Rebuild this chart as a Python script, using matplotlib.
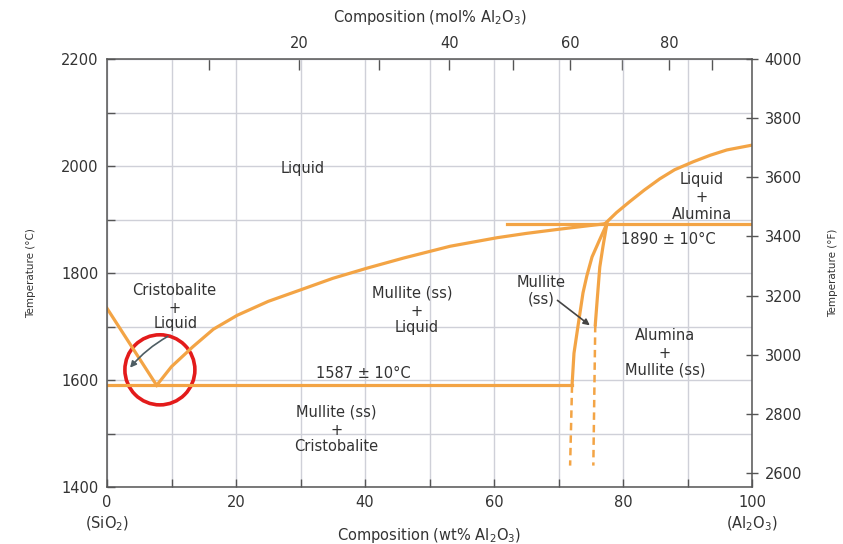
import numpy as np
import matplotlib
matplotlib.use("Agg")
import matplotlib.pyplot as plt
from matplotlib.patches import Ellipse

plt.rcParams['font.family'] = ['DejaVu Sans']
plt.rcParams['mathtext.default'] = 'regular'

# phase boundaries (wt% Al2O3, deg C)
sio2_liq_wt = [0, 7.7]
sio2_liq_T = [1734, 1590]
mull_liq_wt = [7.7, 10, 13.3, 16.5, 20.2, 25, 29.9, 35, 40.3, 46, 53.2, 60.5, 65, 70.2, 77.2]
mull_liq_T = [1590, 1625, 1662, 1695, 1721, 1747, 1768, 1790, 1809, 1828, 1850, 1866, 1874, 1882, 1892]
alum_liq_wt = [77.2, 79, 81, 83.3, 85.7, 88, 90.9, 93.5, 96.1, 100]
alum_liq_T = [1892, 1913, 1933, 1955, 1976, 1993, 2008, 2020, 2030, 2039]
eut_wt = [0, 72.1]
eut_T = [1590, 1590]
peri_wt = [62, 100]
peri_T = [1892, 1892]
mull_left_wt = [77.5, 76.3, 75.2, 74.4, 73.8, 73.0, 72.4, 72.1]
mull_left_T = [1892, 1860, 1830, 1795, 1763, 1699, 1650, 1590]
mull_left_dash_wt = [72.1, 71.8]
mull_left_dash_T = [1590, 1440]
mull_right_wt = [77.5, 76.9, 76.4, 76.0, 75.7]
mull_right_T = [1892, 1850, 1811, 1750, 1703]
mull_right_dash_wt = [75.7, 75.4]
mull_right_dash_T = [1703, 1440]

# region labels: (text, wt%, T)
labels = [
    ("Liquid", 30.4, 1996),
    ("Cristobalite", 10.4, 1768), ("+", 10.4, 1734), ("Liquid", 10.6, 1705),
    ("Mullite (ss)", 47.4, 1763), ("+", 48.0, 1728), ("Liquid", 48.0, 1699),
    ("1587 ± 10°C", 39.7, 1613),
    ("Mullite (ss)", 35.6, 1540), ("+", 35.6, 1506), ("Cristobalite", 35.6, 1475),
    ("Mullite", 67.3, 1783), ("(ss)", 67.3, 1751),
    ("Liquid", 92.2, 1974), ("+", 92.2, 1942), ("Alumina", 92.2, 1910),
    ("1890 ± 10°C", 87.1, 1862),
    ("Alumina", 86.5, 1684), ("+", 86.5, 1650), ("Mullite (ss)", 86.6, 1619),
]

orange = '#F3A445'
txt = '#333333'

def wt2mol(w):
    w = np.clip(np.asarray(w, dtype=float), 1e-9, 100 - 1e-9)
    a = w / 101.96
    b = (100 - w) / 60.08
    return 100 * a / (a + b)

def mol2wt(m):
    m = np.clip(np.asarray(m, dtype=float), 1e-9, 100 - 1e-9)
    return 100 * m * 101.96 / (m * 101.96 + (100 - m) * 60.08)

fig = plt.figure(figsize=(8.43, 5.44), dpi=100)
ax = fig.add_axes([107/843, 1 - 487/544, 645/843, 428/544])

ax.set_xlim(0, 100)
ax.set_ylim(1400, 2200)
ax.set_xticks(range(0, 101, 20))
ax.set_xticks(range(10, 100, 20), minor=True)
ax.set_yticks(range(1400, 2201, 200))
ax.set_yticks(range(1500, 2200, 200), minor=True)
ax.grid(True, which='both', color='#cfd0d8', linewidth=1.0)
ax.set_axisbelow(True)
ax.tick_params(which='both', direction='in', length=6, width=1, color='#555555',
               labelsize=10.5, labelcolor=txt, pad=6)
for s in ax.spines.values():
    s.set_color('#555555')
    s.set_linewidth(1.1)

lw = 2.3
ax.plot(sio2_liq_wt, sio2_liq_T, color=orange, lw=lw)
ax.plot(mull_liq_wt, mull_liq_T, color=orange, lw=lw)
ax.plot(alum_liq_wt, alum_liq_T, color=orange, lw=lw)
ax.plot(eut_wt, eut_T, color=orange, lw=lw)
ax.plot(peri_wt, peri_T, color=orange, lw=lw)
ax.plot(mull_left_wt, mull_left_T, color=orange, lw=lw)
ax.plot(mull_right_wt, mull_right_T, color=orange, lw=lw)
ax.plot(mull_left_dash_wt, mull_left_dash_T, color=orange, lw=1.8, ls=(0, (3, 2)))
ax.plot(mull_right_dash_wt, mull_right_dash_T, color=orange, lw=1.8, ls=(0, (3, 2)))

for s, x, y in labels:
    ax.text(x, y, s, ha='center', va='center', fontsize=10.5, color=txt)

ax.annotate('', xy=(3.3, 1619), xytext=(9.8, 1684),
            arrowprops=dict(arrowstyle='-|>', color='#4d5d63', lw=1.2,
                            mutation_scale=9, connectionstyle='arc3,rad=0.1'))
ax.annotate('', xy=(75.2, 1699), xytext=(69.5, 1752),
            arrowprops=dict(arrowstyle='-|>', color='#444444', lw=1.2,
                            mutation_scale=9))

ax.add_patch(Ellipse((8.2, 1619), 10.85, 131, fill=False, edgecolor='#e31b1b', lw=2.6))

# mol% scale on top
top = ax.secondary_xaxis('top', functions=(wt2mol, mol2wt))
top.set_xticks([20, 40, 60, 80])
top.set_xticks([10, 30, 50, 70, 90], minor=True)
top.tick_params(which='both', direction='in', length=8, width=1, color='#555555',
                labelsize=10.5, labelcolor=txt, pad=6)
top.spines['top'].set_visible(False)
top.set_xlabel(r'Composition (mol% Al$_2$O$_3$)', fontsize=10.5, color=txt, labelpad=10)

# deg F scale on the right (2200 C sits at the 4000 F mark in the original)
right = ax.twinx()
right.set_ylim(2553, 4000)
right.set_yticks(range(2600, 4001, 200))
right.tick_params(direction='inout', length=8, width=1, color='#555555',
                  labelsize=10.5, labelcolor=txt, pad=5)
for s in right.spines.values():
    s.set_visible(False)
right.set_ylabel('Temperature (°F)', fontsize=7.5, color=txt, labelpad=19)

ax.set_ylabel('Temperature (°C)', fontsize=7.5, color=txt, labelpad=18)
ax.set_xlabel(r'Composition (wt% Al$_2$O$_3$)', fontsize=10.5, color=txt, labelpad=11)
ax.text(0, -0.085, r'(SiO$_2$)', transform=ax.transAxes, ha='center', va='center',
        fontsize=10.5, color=txt)
ax.text(1, -0.085, r'(Al$_2$O$_3$)', transform=ax.transAxes, ha='center', va='center',
        fontsize=10.5, color=txt)

fig.savefig('out.png', dpi=100)
